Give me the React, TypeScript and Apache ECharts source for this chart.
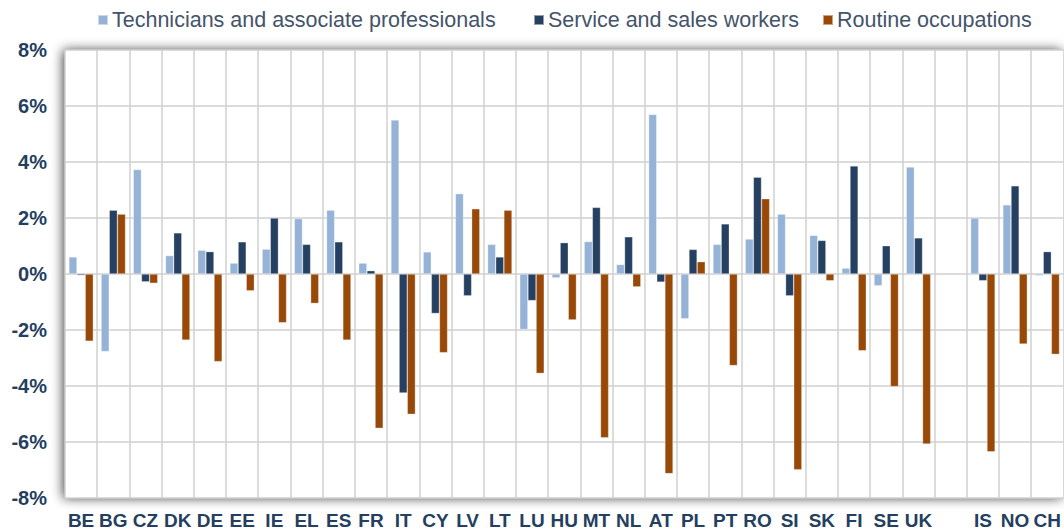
import React, { useEffect, useRef } from "react";
import * as echarts from "echarts";

const categories = ["BE","BG","CZ","DK","DE","EE","IE","EL","ES","FR","IT","CY","LV","LT","LU","HU","MT","NL","AT","PL","PT","RO","SI","SK","FI","SE","UK","","IS","NO","CH"];
const technicians = [0.61,-2.77,3.73,0.66,0.85,0.39,0.89,1.98,2.28,0.39,5.5,0.79,2.87,1.06,-1.98,-0.14,1.16,0.34,5.7,-1.6,1.06,1.25,2.14,1.38,0.21,-0.42,3.82,null,2.0,2.47,-0.06];
const service = [-0.05,2.28,-0.28,1.47,0.8,1.15,2.0,1.06,1.15,0.12,-4.25,-1.41,-0.78,0.61,-0.95,1.12,2.38,1.33,-0.29,0.88,1.79,3.46,-0.78,1.2,3.86,1.01,1.29,null,-0.24,3.15,0.8];
const routine = [-2.4,2.14,-0.33,-2.36,-3.13,-0.6,-1.74,-1.05,-2.36,-5.51,-5.01,-2.81,2.33,2.28,-3.55,-1.64,-5.85,-0.46,-7.13,0.44,-3.27,2.69,-6.99,-0.24,-2.74,-4.02,-6.07,null,-6.35,-2.5,-2.87];
const seriesNames = ["Technicians and associate professionals","Service and sales workers","Routine occupations"];
const colors = ["#95b3d7","#254061","#984807"];

export default function App() {
  const ref = useRef<HTMLDivElement>(null);
  useEffect(() => {
    if (!ref.current) return;
    const chart = echarts.init(ref.current, null, { renderer: "svg" });
    const legendText = { fontFamily: "Liberation Sans, Arial", fontSize: 21.5, color: "#44546a" };
    const legendPos = [97, 533, 822];
    chart.setOption({
      animation: false,
      legend: seriesNames.map((n, i) => ({
        data: [n],
        left: legendPos[i],
        top: 9,
        icon: "rect",
        itemWidth: 10,
        itemHeight: 10,
        itemGap: 0,
        textStyle: { ...legendText, padding: [0, 0, 0, -1] },
        padding: 0,
      })),
      grid: {
        left: 65,
        right: 0,
        top: 50,
        bottom: 32,
        show: true,
        backgroundColor: "#ffffff",
        borderWidth: 0,
        shadowBlur: 12,
        shadowColor: "rgba(0,0,0,0.75)",
        shadowOffsetX: -2,
      },
      xAxis: {
        type: "category",
        data: categories,
        axisLine: { show: false },
        axisTick: { show: false },
        splitLine: { show: true, interval: 0, lineStyle: { color: "#d0d0d0", width: 1.5 } },
        axisLabel: {
          interval: 0,
          margin: 13,
          fontFamily: "Liberation Sans, Arial",
          fontWeight: "bold",
          fontSize: 19,
          color: "#243f60",
        },
      },
      yAxis: {
        type: "value",
        min: -8,
        max: 8,
        interval: 2,
        axisLine: { show: false },
        axisTick: { show: false },
        splitLine: { show: true, lineStyle: { color: "#d0d0d0", width: 1.5 } },
        axisLabel: {
          formatter: "{value}%",
          margin: 18,
          fontFamily: "Liberation Sans, Arial",
          fontWeight: "bold",
          fontSize: 20,
          color: "#243f60",
        },
      },
      series: [technicians, service, routine].map((d, i) => ({
        name: seriesNames[i],
        type: "bar",
        data: d,
        barGap: "0%",
        barCategoryGap: "24%",
        itemStyle: { color: colors[i], borderColor: "rgba(255,255,255,0.5)", borderWidth: 0.6 },
      })),
    });
    return () => chart.dispose();
  }, []);
  return <div ref={ref} style={{ position: "absolute", left: 0, top: 0, width: 1064, height: 530 }} />;
}
